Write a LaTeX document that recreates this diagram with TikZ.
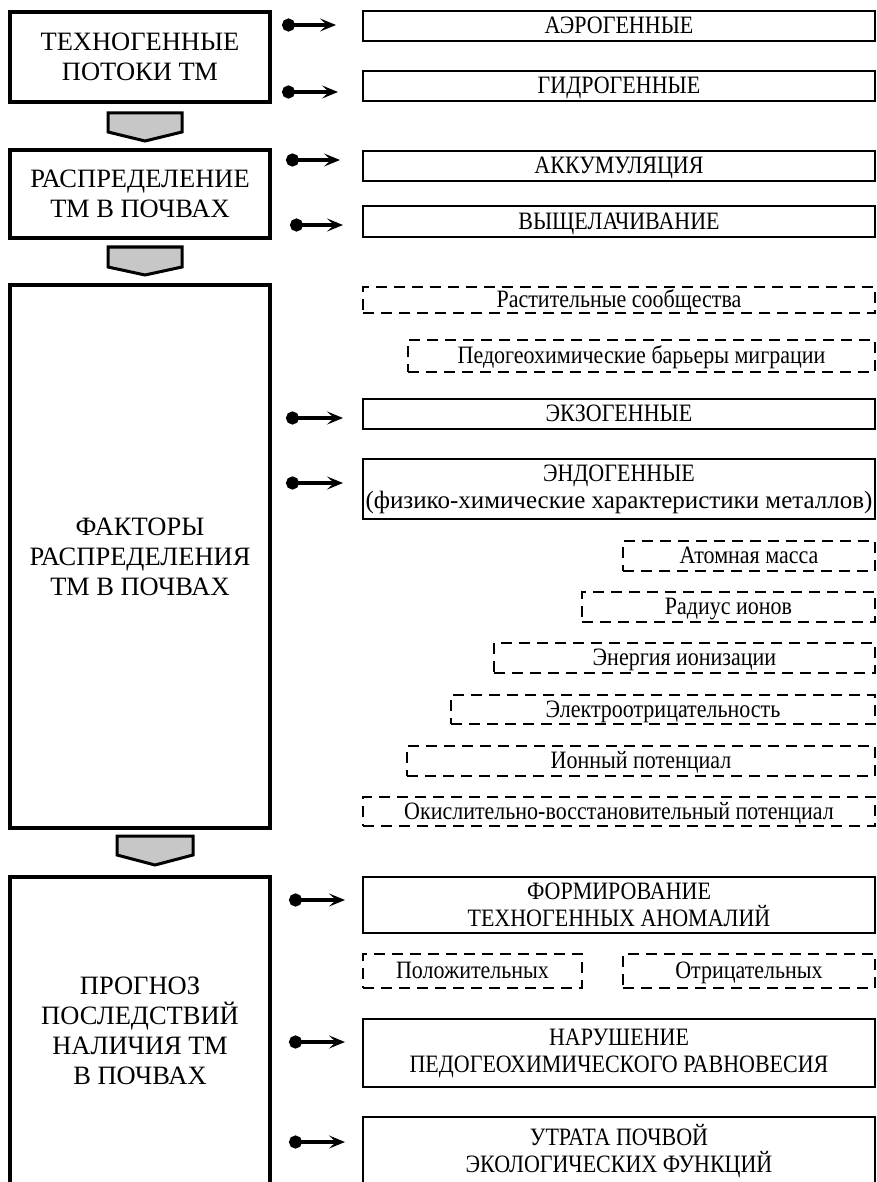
\documentclass[tikz,border=0pt]{standalone}
\usepackage{fontspec}
\setmainfont{Liberation Serif}
\newfontfamily\narrowserif{Liberation Serif}[FakeStretch=0.88]
\usetikzlibrary{arrows.meta}
\begin{document}
\begin{tikzpicture}[x=1pt,y=-1pt,
  lbox/.style={draw, line width=3.2pt, align=center, inner sep=0pt,
    minimum width=260pt, font=\fontsize{26.5}{30}\selectfont},
  rbox/.style={draw, line width=2.6pt, align=center, inner sep=0pt,
    minimum width=512pt, font=\narrowserif\fontsize{25}{27}\selectfont},
  oneline/.style={text height=16.5pt, text depth=1pt},
  dbox/.style={rbox, oneline, line width=2.8pt, dash pattern=on 11pt off 7pt},
  chev/.style={draw, line width=3pt, fill=black!22, line join=miter},
  link/.style={line width=3.2pt,
    {Circle[length=13pt]}-{Stealth[length=16pt,width=13pt,inset=7pt]}}]
\useasboundingbox (0,0) rectangle (877,1182);
\clip (0,0) rectangle (877,1182);

% stages (left column)
\node[lbox, minimum height=90pt]  (flows)   at (140,57)    {ТЕХНОГЕННЫЕ\\ПОТОКИ ТМ};
\node[lbox, minimum height=88pt]  (distr)   at (140,194)   {РАСПРЕДЕЛЕНИЕ\\ТМ В ПОЧВАХ};
\node[lbox, minimum height=543pt] (factors) at (140,556.5) {ФАКТОРЫ\\РАСПРЕДЕЛЕНИЯ\\ТМ В ПОЧВАХ};
\node[lbox, minimum height=308pt] (forecast) at (140,1031) {ПРОГНОЗ\\ПОСЛЕДСТВИЙ\\НАЛИЧИЯ ТМ\\В ПОЧВАХ};

% transitions between stages
\draw[chev] (108,113) -- (182,113) -- (182,132) -- (145,141) -- (108,132) -- cycle;
\draw[chev] (108,247) -- (182,247) -- (182,267) -- (145,275) -- (108,267) -- cycle;
\draw[chev] (117,836) -- (193,836) -- (193,855) -- (155,865) -- (117,855) -- cycle;

% details (right column)
\node[rbox, oneline, minimum height=30pt] (aero)  at (619,26)    {АЭРОГЕННЫЕ};
\node[rbox, oneline, minimum height=30pt] (hydro) at (619,86)    {ГИДРОГЕННЫЕ};
\node[rbox, oneline, minimum height=30pt] (accum) at (619,166)   {АККУМУЛЯЦИЯ};
\node[rbox, oneline, minimum height=31pt] (leach) at (619,221.5) {ВЫЩЕЛАЧИВАНИЕ};

\node[dbox, minimum height=26pt] (plants)   at (619,300) {Растительные сообщества};
\node[dbox, minimum height=32pt, minimum width=467pt] (barriers) at (641.5,356) {Педогеохимические барьеры миграции};
\node[rbox, oneline, minimum height=30pt] (exo)  at (619,414) {ЭКЗОГЕННЫЕ};
\node[rbox, minimum height=60pt] (endo) at (619,489)
  {ЭНДОГЕННЫЕ\\{\rmfamily\fontsize{25}{27}\selectfont(физико-химические характеристики металлов)}};

\node[dbox, minimum height=30pt, minimum width=252pt] (mass)    at (749,556)   {Атомная масса};
\node[dbox, minimum height=30pt, minimum width=293pt] (radius)  at (728.5,607) {Радиус ионов};
\node[dbox, minimum height=30pt, minimum width=381pt] (ioniz)   at (684.5,658) {Энергия ионизации};
\node[dbox, minimum height=29pt, minimum width=424pt] (electro) at (663,709.5) {Электроотрицательность};
\node[dbox, minimum height=30pt, minimum width=468pt] (ionpot)  at (641,761)   {Ионный потенциал};
\node[dbox, minimum height=29pt] (redox) at (619,811.5) {Окислительно-восстановительный потенциал};

\node[rbox, minimum height=56pt] (anom) at (619,905) {ФОРМИРОВАНИЕ\\ТЕХНОГЕННЫХ АНОМАЛИЙ};
\node[dbox, minimum height=34pt, minimum width=219pt] (pos) at (472.5,971) {Положительных};
\node[dbox, minimum height=34pt, minimum width=252pt] (neg) at (749,971)   {Отрицательных};
\node[rbox, minimum height=68pt] (balance) at (619,1053)   {НАРУШЕНИЕ\\ПЕДОГЕОХИМИЧЕСКОГО РАВНОВЕСИЯ};
\node[rbox, minimum height=69pt] (loss)    at (619,1151.5) {УТРАТА ПОЧВОЙ\\ЭКОЛОГИЧЕСКИХ ФУНКЦИЙ};

% pointer ends
\coordinate (s1) at (282,25);    \coordinate (e1) at (336,25);
\coordinate (s2) at (282,92);    \coordinate (e2) at (338,92);
\coordinate (s3) at (286,160);   \coordinate (e3) at (340,160);
\coordinate (s4) at (290,225);   \coordinate (e4) at (343,225);
\coordinate (s5) at (286,418);   \coordinate (e5) at (343,418);
\coordinate (s6) at (286,483);   \coordinate (e6) at (343,483);
\coordinate (s7) at (289,900);   \coordinate (e7) at (345,900);
\coordinate (s8) at (289,1042);  \coordinate (e8) at (345,1042);
\coordinate (s9) at (289,1142);  \coordinate (e9) at (345,1142);

\foreach \i in {1,...,9} \draw[link] (s\i) -- (e\i);
\end{tikzpicture}
\end{document}
